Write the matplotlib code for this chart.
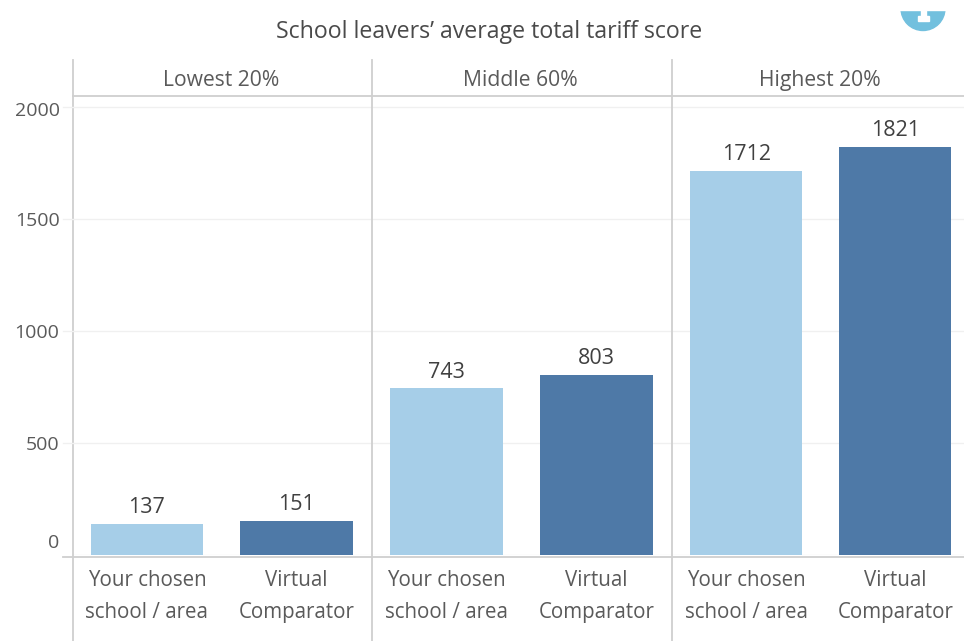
import matplotlib.pyplot as plt
from matplotlib.lines import Line2D
from matplotlib.patches import Circle, Rectangle
from matplotlib.transforms import ScaledTranslation

# data
groups = ["Lowest 20%", "Middle 60%", "Highest 20%"]
categories = ["Your chosen\nschool / area", "Virtual\nComparator"]
chosen = [137, 743, 1712]
virtual = [151, 803, 1821]
yticks = [0, 500, 1000, 1500, 2000]
title = "School leavers\u2019 average total tariff score"

W = 964
H = 641
col_light = "#a6cee8"
col_dark = "#4e79a7"
col_text = "#5a5a5a"
col_line = "#cfcfcf"
col_grid = "#f0f0f0"

plt.rcParams['font.family'] = ['Open Sans', 'DejaVu Sans']
plt.rcParams['font.size'] = 14.8

fig = plt.figure(figsize=(W / 100, H / 100), dpi=100)

def fx(px):
    return px / W

def fy(py):
    return 1 - py / H

# panel edges in pixels
edges = [72, 371.5, 671.5, 970]
y_zero = 555
y_2000 = 106.5
y_head = 95.5
y_base = 556.5
y_top_val = (y_zero - y_head) / ((y_zero - y_2000) / 2000)

for i in range(3):
    ax = fig.add_axes([fx(edges[i]), fy(y_zero), fx(edges[i + 1] - edges[i]), (y_zero - y_head) / H])
    ax.set_xlim(-0.5, 1.5)
    ax.set_ylim(0, y_top_val)
    ax.set_yticks(yticks)
    ax.set_xticks([0, 1])
    ax.set_xticklabels(categories, color=col_text, linespacing=1.65)
    ax.tick_params(axis="x", length=0, pad=11)
    ax.tick_params(axis="y", length=0, pad=9, labelcolor=col_text, labelsize=14)
    if i > 0:
        ax.tick_params(axis="y", labelleft=False)
    else:
        # the 0 and 2000 labels sit off their ticks in the original
        labels = ax.get_yticklabels()
        labels[0].set_transform(labels[0].get_transform() + ScaledTranslation(0, 14 / 100, fig.dpi_scale_trans))
        labels[4].set_transform(labels[4].get_transform() + ScaledTranslation(0, -2 / 100, fig.dpi_scale_trans))
    ax.grid(axis="y", color=col_grid, linewidth=1)
    ax.set_axisbelow(True)
    for s in ax.spines.values():
        s.set_visible(False)
    bars = ax.bar([0, 1], [chosen[i], virtual[i]], width=0.75, color=[col_light, col_dark])
    for b in bars:
        ax.text(b.get_x() + b.get_width() / 2, b.get_height() + 26, str(int(b.get_height())),
                ha="center", va="bottom", color="#404040", fontsize=15.5)
    fig.text(fx((edges[i] + edges[i + 1]) / 2) - 1 / W, fy(80.5), groups[i], ha="center", va="center", color=col_text, fontsize=15.2)

# frame lines, these run outside the axes
for x in [72.5, 371.5, 671.5]:
    fig.add_artist(Line2D([fx(x), fx(x)], [fy(60), fy(641)], color=col_line, linewidth=1.3))
fig.add_artist(Line2D([fx(72.5), 1], [fy(y_head), fy(y_head)], color=col_line, linewidth=1.3))
fig.add_artist(Line2D([fx(63), 1], [fy(y_base), fy(y_base)], color=col_line, linewidth=1.3))
for v in yticks[1:]:
    py = y_zero - v * (y_zero - y_2000) / 2000
    fig.add_artist(Line2D([fx(63), fx(72.5)], [fy(py), fy(py)], color=col_grid, linewidth=1))

fig.text(fx(489.5), fy(31.5), title, ha="center", va="center", color="#4a4a4a", fontsize=16.7)

# cut off info icon, top right
bg = fig.add_axes([0, 0, 1, 1], zorder=5)
bg.set_xlim(0, W)
bg.set_ylim(H, 0)
bg.axis("off")
bg.add_patch(Circle((923, 8.5), 22, color="#72c0de"))
bg.add_patch(Rectangle((895, 0), 60, 10, color="white"))
bg.add_patch(Rectangle((921, 10), 5, 6, color="white"))
bg.add_patch(Rectangle((918, 15.5), 11, 5.5, color="white"))

fig.savefig("out.png", dpi=100)
